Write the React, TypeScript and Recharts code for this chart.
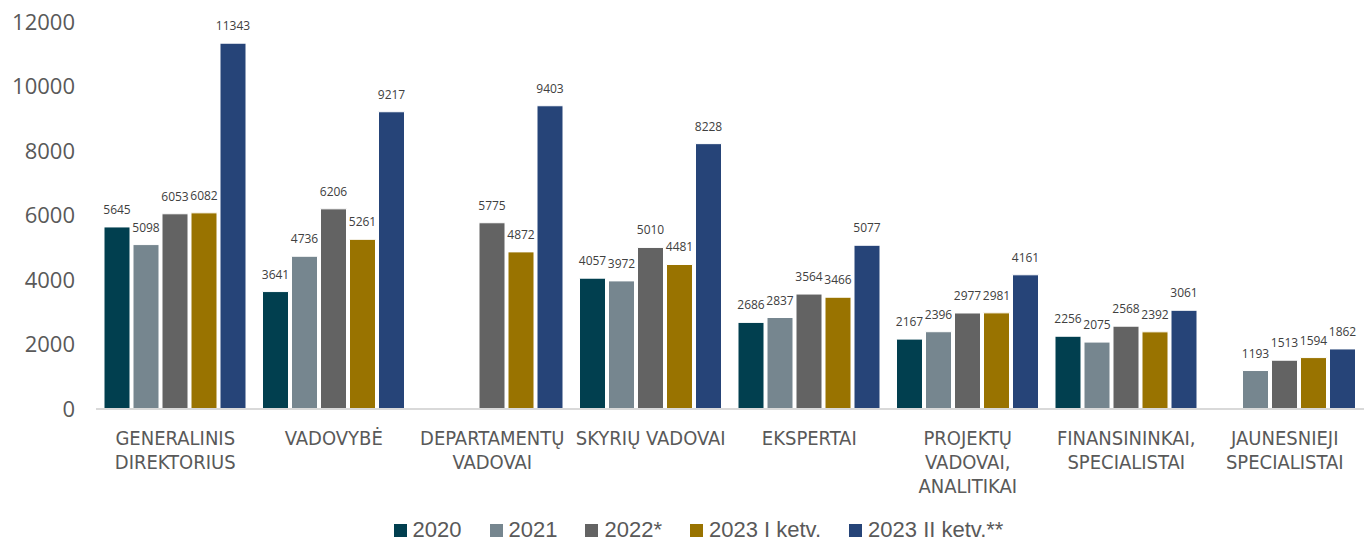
import { BarChart, Bar, XAxis, YAxis, LabelList } from 'recharts';

const CATEGORIES = [
  'GENERALINIS DIREKTORIUS',
  'VADOVYBĖ',
  'DEPARTAMENTŲ VADOVAI',
  'SKYRIŲ VADOVAI',
  'EKSPERTAI',
  'PROJEKTŲ VADOVAI, ANALITIKAI',
  'FINANSININKAI, SPECIALISTAI',
  'JAUNESNIEJI SPECIALISTAI',
];

// how each category label breaks into lines under the axis
const TICK_LINES = [
  ['GENERALINIS', 'DIREKTORIUS'],
  ['VADOVYBĖ'],
  ['DEPARTAMENTŲ', 'VADOVAI'],
  ['SKYRIŲ VADOVAI'],
  ['EKSPERTAI'],
  ['PROJEKTŲ', 'VADOVAI,', 'ANALITIKAI'],
  ['FINANSININKAI,', 'SPECIALISTAI'],
  ['JAUNESNIEJI', 'SPECIALISTAI'],
];

const Y2020 = [5645, 3641, null, 4057, 2686, 2167, 2256, null];
const Y2021 = [5098, 4736, null, 3972, 2837, 2396, 2075, 1193];
const Y2022 = [6053, 6206, 5775, 5010, 3564, 2977, 2568, 1513];
const Y2023Q1 = [6082, 5261, 4872, 4481, 3466, 2981, 2392, 1594];
const Y2023Q2 = [11343, 9217, 9403, 8228, 5077, 4161, 3061, 1862];

const Y_TICKS = [0, 2000, 4000, 6000, 8000, 10000, 12000];

const SERIES = [
  { key: 'y2020', name: '2020', color: '#013F4F' },
  { key: 'y2021', name: '2021', color: '#76868F' },
  { key: 'y2022', name: '2022*', color: '#636363' },
  { key: 'y2023q1', name: '2023 I ketv.', color: '#997300' },
  { key: 'y2023q2', name: '2023 II ketv.**', color: '#264478' },
];

const data = CATEGORIES.map((name, i) => ({
  name,
  y2020: Y2020[i],
  y2021: Y2021[i],
  y2022: Y2022[i],
  y2023q1: Y2023Q1[i],
  y2023q2: Y2023Q2[i],
}));

const CategoryTick = (props: any) => {
  const { x, y, index } = props;
  const lines = TICK_LINES[index] ?? [props.payload.value];
  return (
    <text
      x={x}
      y={y}
      textAnchor="middle"
      fill="#595959"
      fontSize={20}
      fontFamily="'Liberation Sans Narrow', 'DejaVu Sans Condensed', sans-serif"
    >
      {lines.map((line: string, i: number) => (
        <tspan key={i} x={x} y={y + 36 + i * 24}>
          {line}
        </tspan>
      ))}
    </text>
  );
};

export default function App() {
  return (
    <div style={{ position: 'fixed', left: 0, top: 0, width: 1367, height: 544, background: '#fff' }}>
      <BarChart
        width={1367}
        height={544}
        data={data}
        margin={{ top: 22, right: 3, left: 0, bottom: 0 }}
        barCategoryGap={8}
        barGap={3}
      >
        <XAxis
          dataKey="name"
          height={135}
          tickLine={false}
          tickSize={0}
          tickMargin={0}
          interval={0}
          axisLine={{ stroke: '#D9D9D9', strokeWidth: 2 }}
          tick={<CategoryTick />}
        />
        <YAxis
          width={96}
          domain={[0, 12000]}
          ticks={Y_TICKS}
          axisLine={false}
          tickLine={false}
          tickSize={0}
          tickMargin={21}
          tick={{ fill: '#595959', fontSize: 22, fontFamily: "'Open Sans', sans-serif" }}
        />
        {SERIES.map((s) => (
          <Bar
            key={s.key}
            dataKey={s.key}
            name={s.name}
            fill={s.color}
            stroke="#ffffff"
            strokeWidth={1}
            isAnimationActive={false}
          >
            <LabelList
              dataKey={s.key}
              position="top"
              offset={13}
              fill="#404040"
              fontSize={12}
              fontFamily="'Open Sans', sans-serif"
            />
          </Bar>
        ))}
      </BarChart>
      <div
        style={{
          position: 'absolute',
          left: 0,
          top: 517,
          width: 1367,
          display: 'flex',
          justifyContent: 'center',
          gap: 28,
          paddingLeft: 30,
          boxSizing: 'border-box',
          fontFamily: "'Liberation Sans', sans-serif",
          fontSize: 22,
          color: '#595959',
          whiteSpace: 'nowrap',
          lineHeight: '26px',
        }}
      >
        {SERIES.map((s) => (
          <div key={s.key} style={{ display: 'flex', alignItems: 'center' }}>
            <span style={{ display: 'inline-block', width: 13, height: 13, background: s.color, marginRight: 6 }} />
            <span>{s.name}</span>
          </div>
        ))}
      </div>
    </div>
  );
}
